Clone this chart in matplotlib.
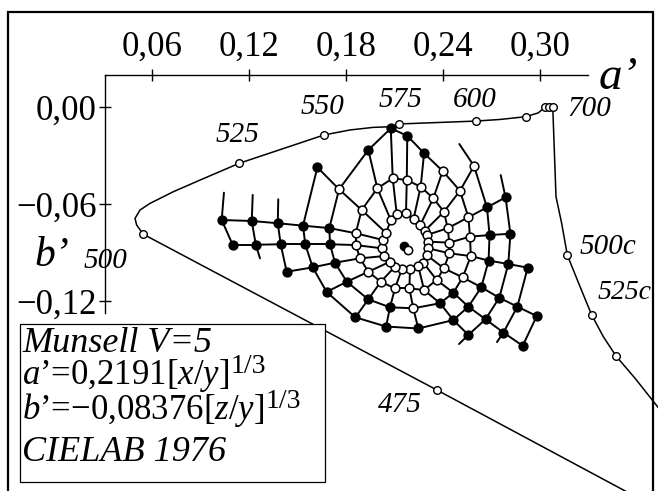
import matplotlib.pyplot as plt
from matplotlib.patches import Rectangle

plt.rcParams['font.family'] = ['Liberation Serif', 'DejaVu Serif']
plt.rcParams['mathtext.fontset'] = 'custom'
plt.rcParams['mathtext.rm'] = 'Liberation Serif'
plt.rcParams['mathtext.it'] = 'Liberation Serif:italic'

# spectral locus in a'-b'
locus_a = [0.3743, 0.2363, 0.0546, 0.0505, 0.0495, 0.0526, 0.0588, 0.0732, 0.0897,
           0.1140, 0.1664, 0.1825, 0.1969, 0.2077, 0.2128, 0.2604, 0.2753, 0.2912,
           0.2988, 0.3031, 0.3058, 0.3079, 0.3099, 0.3134, 0.3169, 0.3248, 0.3320,
           0.3392, 0.3470, 0.3588, 0.3743]
locus_b = [-0.2491, -0.1751, -0.0787, -0.0730, -0.0689, -0.0637, -0.0596, -0.0524, -0.0452,
           -0.0348, -0.0173, -0.0142, -0.0126, -0.0122, -0.0105, -0.0087, -0.0077, -0.0060,
           -0.0037, -0.0002, -0.0002, -0.0002, -0.0555, -0.0719, -0.0916, -0.1112, -0.1287,
           -0.1421, -0.1540, -0.1678, -0.1874]
# indices of marked wavelengths on the locus
marked = [1, 2, 9, 10, 14, 15, 17, 19, 20, 21, 24, 26, 28]
wl_labels = {1: '475', 2: '500', 9: '525', 10: '550', 14: '575', 15: '600',
             21: '700', 24: '500c', 26: '525c'}
wl_offsets = {1: (-27, -11), 2: (-27, -19), 9: (-1, 20), 10: (-1, 20), 14: (1, 17),
              15: (-1, 15), 21: (26, -1), 24: (29, 6), 26: (4.5, 16)}

# Munsell V=5 renotation, hues in ring order
hues = ['10G', '5G', '10GY', '5GY', '10Y', '5Y', '10YR', '5YR', '10R', '5R',
        '10RP', '5RP', '10P', '5P', '10PB', '5PB', '10B', '5B', '10BG', '5BG']
N = None
# chroma /2
c2_a = [0.2021, 0.2031, 0.2048, 0.2077, 0.2114, 0.2171, 0.2218, 0.2260, 0.2286, 0.2299,
        0.2309, 0.2309, 0.2299, 0.2278, 0.2247, 0.2196, 0.2145, 0.2103, 0.2072, 0.2037]
c2_b = [-0.0874, -0.0823, -0.0779, -0.0699, -0.0664, -0.0658, -0.0692, -0.0728, -0.0767, -0.0792,
        -0.0833, -0.0874, -0.0916, -0.0963, -0.0984, -0.1004, -0.1004, -0.0988, -0.0957, -0.0922]
# chroma /4
c4_a = [0.1860, 0.1860, 0.1897, 0.1994, 0.2089, 0.2176, 0.2262, 0.2340, 0.2406, 0.2429,
        0.2439, 0.2439, 0.2406, 0.2361, 0.2283, 0.2192, 0.2103, 0.2015, 0.1938, 0.1887]
c4_b = [-0.0854, -0.0781, -0.0637, -0.0503, -0.0441, -0.0452, -0.0493, -0.0565, -0.0648, -0.0750,
        -0.0839, -0.0905, -0.0998, -0.1070, -0.1132, -0.1122, -0.1122, -0.1081, -0.1019, -0.0936]
# chroma /6
c6_a = [0.1701, 0.1697, 0.1757, 0.1938, 0.2077, 0.2179, 0.2283, 0.2398, 0.2505, 0.2557,
        0.2567, 0.2572, 0.2522, 0.2464, 0.2382, 0.2216, 0.2072, 0.1938, 0.1805, 0.1732]
c6_b = [-0.0849, -0.0749, -0.0509, -0.0266, -0.0132, -0.0178, -0.0286, -0.0396, -0.0518, -0.0682,
        -0.0802, -0.0922, -0.1054, -0.1149, -0.1214, -0.1245, -0.1239, -0.1190, -0.1081, -0.0963]
# chroma /8
c8_a = [0.1548, 0.1534, 0.1623, N, N, N, N, N, 0.2592, 0.2672,
        0.2688, 0.2682, 0.2637, 0.2557, 0.2464, 0.2247, 0.2048, 0.1858, 0.1680, 0.1594]
c8_b = [-0.0849, -0.0734, -0.0373, N, N, N, N, N, -0.0365, -0.0621,
        -0.0792, -0.0950, -0.1115, -0.1235, -0.1318, -0.1370, -0.1358, -0.1301, -0.1144, -0.0992]
# chroma /10
c10_a = [0.1396, 0.1378, N, N, N, N, N, N, N, 0.2787,
         0.2817, 0.2804, 0.2748, 0.2663, 0.2557, N, N, N, N, 0.1433]
c10_b = [-0.0849, -0.0719, N, N, N, N, N, N, N, -0.0559,
         -0.0784, -0.0971, -0.1180, -0.1313, -0.1410, N, N, N, N, -0.1019]
# chroma /12
c12_a = [0.1242, 0.1217, N, N, N, N, N, N, N, N, N, 0.2924, 0.2860, 0.2774, N, N, N, N, N, N]
c12_b = [-0.0852, -0.0705, N, N, N, N, N, N, N, N, N, -0.0994, -0.1235, -0.1395, N, N, N, N, N, N]
# chroma /14
c14_a = [0.1099, 0.1031, N, N, N, N, N, N, N, N, N, N, 0.2980, 0.2893, N, N, N, N, N, N]
c14_b = [-0.0852, -0.0699, N, N, N, N, N, N, N, N, N, N, -0.1293, -0.1477, N, N, N, N, N, N]
# chips drawn open (o) or filled (f) at chroma /6 and /8; /2 and /4 open, /10+ filled
c6_kind = 'ffoffffooooooffoffff'
c8_kind = 'ffffffffoffffffffffff'
# chroma lines that leave the grid without reaching another chip: (hue, chroma, a, b)
stubs = [('5G', 10, 0.1381, -0.0571), ('5G', 12, 0.1223, -0.0544), ('5G', 14, 0.1045, -0.0530),
         ('10G', 12, 0.1268, -0.0936), ('10R', 8, 0.2501, -0.0229), ('5R', 10, 0.2757, -0.0421),
         ('5P', 12, 0.2734, -0.1454), ('10PB', 10, 0.2499, -0.1466)]

neutral_a, neutral_b = 0.2156, -0.0860
white_a, white_b = 0.2181, -0.0882

fig = plt.figure(figsize=(6.58, 4.91), dpi=100)
ax = fig.add_axes([0, 0, 1, 1])
ax.set_xlim(-0.03402, 0.37299)
ax.set_ylim(-0.23753, 0.06619)
ax.set_aspect('equal')

# axes drawn as crossing lines at the top-left
for s in ('right', 'bottom'):
    ax.spines[s].set_visible(False)
ax.spines['top'].set_position(('data', 0.0198))
ax.spines['top'].set_bounds(0.0309, 0.3297)
ax.spines['left'].set_position(('data', 0.0309))
ax.spines['left'].set_bounds(-0.1274, 0.0198)
for s in ('top', 'left'):
    ax.spines[s].set_linewidth(1.0)
ax.xaxis.set_ticks_position('top')
ax.yaxis.set_ticks_position('left')
xt = [0.06, 0.12, 0.18, 0.24, 0.30]
yt = [0.00, -0.06, -0.12]
ax.set_xticks(xt)
ax.set_xticklabels([f'{v:.2f}'.replace('.', ',') for v in xt])
ax.set_yticks(yt)
ax.set_yticklabels([f'{v:.2f}'.replace('.', ',').replace('-', '\u2212') for v in yt])
ax.tick_params(direction='inout', length=8, width=1.0, labelsize=25)
ax.tick_params(axis='x', pad=4)
ax.tick_params(axis='y', pad=2)
ax.text(0.3483, 0.0179, 'a\u2019', fontsize=34, style='italic', ha='center', va='center')
ax.text(-0.0019, -0.0922, 'b\u2019', fontsize=30, style='italic', ha='center', va='center')

# locus
ax.plot(locus_a, locus_b, color='black', lw=1.1, zorder=3)
ax.plot([locus_a[i] for i in marked], [locus_b[i] for i in marked], 'o', ms=5.5,
        mfc='white', mec='black', mew=1.0, zorder=4)
for i, lab in wl_labels.items():
    ax.annotate(lab, (locus_a[i], locus_b[i]), xytext=wl_offsets[i], textcoords='offset points',
                ha='left' if lab == '525c' else 'center', va='center',
                fontsize=20 if lab == '525c' else 21, style='italic', zorder=2)

# Munsell grid
chromas = {2: (c2_a, c2_b), 4: (c4_a, c4_b), 6: (c6_a, c6_b), 8: (c8_a, c8_b),
           10: (c10_a, c10_b), 12: (c12_a, c12_b), 14: (c14_a, c14_b)}
line_kw = dict(color='black', lw=1.4, zorder=5, solid_capstyle='round')
nh = len(hues)
# chroma rings: join neighbouring hues where both chips exist
for c, (ca, cb) in chromas.items():
    for h in range(nh):
        h2 = (h + 1) % nh
        if ca[h] is not None and ca[h2] is not None:
            ax.plot([ca[h], ca[h2]], [cb[h], cb[h2]], **line_kw)
# hue lines: join successive chromas
levels = sorted(chromas)
for h in range(nh):
    for c1, c2 in zip(levels[:-1], levels[1:]):
        a1, b1 = chromas[c1][0][h], chromas[c1][1][h]
        a2, b2 = chromas[c2][0][h], chromas[c2][1][h]
        if a1 is not None and a2 is not None:
            ax.plot([a1, a2], [b1, b2], **line_kw)
for hue, c, ea, eb in stubs:
    h = hues.index(hue)
    ax.plot([chromas[c][0][h], ea], [chromas[c][1][h], eb], **line_kw)

open_a, open_b, fill_a, fill_b = [], [], [], []
for c, (ca, cb) in chromas.items():
    for h in range(nh):
        if ca[h] is None:
            continue
        if c <= 4:
            filled = False
        elif c == 6:
            filled = c6_kind[h] == 'f'
        elif c == 8:
            filled = c8_kind[h] == 'f'
        else:
            filled = True
        (fill_a if filled else open_a).append(ca[h])
        (fill_b if filled else open_b).append(cb[h])
ax.plot(open_a, open_b, 'o', ms=6.3, mfc='white', mec='black', mew=1.1, zorder=6)
ax.plot(fill_a, fill_b, 'o', ms=6.3, mfc='black', mec='black', mew=1.1, zorder=6)
ax.plot([neutral_a], [neutral_b], 'o', ms=6, color='black', zorder=7)
ax.plot([white_a], [white_b], 'o', ms=6, mfc='white', mec='black', mew=1.1, zorder=8)

# legend box
fig.patches.append(Rectangle((20 / 658, 1 - 482 / 491), 305 / 658, 158 / 491, fill=True,
                             facecolor='white', edgecolor='black', lw=0.9,
                             transform=fig.transFigure, zorder=10))
tx = 22 / 658
fig.text(tx, 1 - 352 / 491, 'Munsell V=5', fontsize=26, style='italic', va='baseline', zorder=11)
ta = fig.text(tx, 1 - 384 / 491, '$a$\u2019=0,2191[$x/y$]', fontsize=25, va='baseline', zorder=11)
tb = fig.text(tx, 1 - 419 / 491, '$b$\u2019=\u22120,08376[$z/y$]', fontsize=25, va='baseline', zorder=11)
fig.text(tx, 1 - 461 / 491, 'CIELAB 1976', fontsize=26, style='italic', va='baseline', zorder=11)

# exponents set in near full size right after the bracket, raised above the baseline
renderer = fig.canvas.get_renderer()
for t in (ta, tb):
    bb = t.get_window_extent(renderer)
    fig.text((bb.x1 + 1) / 658, t.get_position()[1] + 11 / 491, '1/3', fontsize=20,
             va='baseline', ha='left', zorder=11)

# outer frame
fig.patches.append(Rectangle((8 / 658, -0.1), 645 / 658, 1.1 - 12 / 491, fill=False,
                             edgecolor='black', lw=1.6, transform=fig.transFigure, zorder=12))

fig.savefig('out.png', dpi=100)
